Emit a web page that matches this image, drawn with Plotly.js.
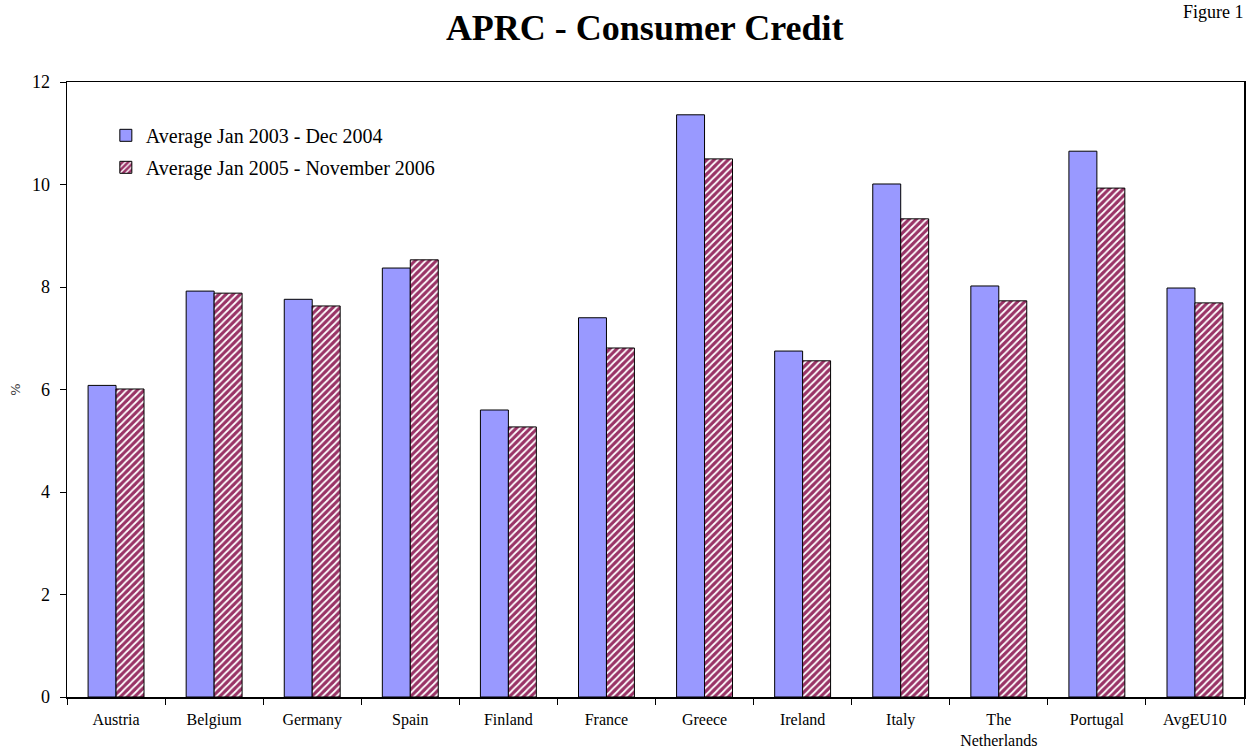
<!DOCTYPE html>
<html>
<head>
<meta charset="utf-8">
<script src="https://cdn.plot.ly/plotly-3.0.1.min.js"></script>
<style>html,body{margin:0;padding:0;background:#fff;}#chart{width:1247px;height:752px;}</style>
</head>
<body>
<div id="chart"></div>
<script>
const categories = ["Austria","Belgium","Germany","Spain","Finland","France","Greece","Ireland","Italy","The<br>Netherlands","Portugal","AvgEU10"];
const series1Name = "Average Jan 2003 - Dec 2004";
const series1 = [6.08, 7.92, 7.76, 8.37, 5.60, 7.40, 11.36, 6.75, 10.01, 8.02, 10.65, 7.98];
const series2Name = "Average Jan 2005 - November 2006";
const series2 = [6.01, 7.88, 7.63, 8.53, 5.27, 6.81, 10.50, 6.56, 9.33, 7.73, 9.93, 7.69];
const yTicks = [0, 2, 4, 6, 8, 10, 12];

const serif = "'Liberation Serif', 'Times New Roman', serif";

const traces = [
  {
    type: "bar", x: categories, y: series1, name: series1Name, legendgroup: "a",
    marker: {color: "#9999ff", line: {color: "#000", width: 1}}
  },
  {
    type: "bar", x: categories, y: series2, name: series2Name, legendgroup: "b",
    marker: {color: "#993366", line: {color: "#000", width: 1},
      pattern: {shape: "/", fgcolor: "#ffffff", bgcolor: "#993366", size: 5, solidity: 0.35}}
  }
];

const layout = {
  width: 1247, height: 752,
  margin: {l: 67, r: 3, t: 82, b: 55},
  paper_bgcolor: "#fff", plot_bgcolor: "#fff",
  barmode: "group", bargap: 0.43, bargroupgap: 0,
  font: {family: serif, color: "#000"},
  title: {text: "<b>APRC - Consumer Credit</b>", font: {family: serif, size: 36, color: "#000"},
          x: 0.517, xanchor: "center", y: 0.963, yanchor: "middle"},
  showlegend: true,
  legend: {x: 0.033, y: 0.945, xanchor: "left", yanchor: "top", bgcolor: "rgba(0,0,0,0)",
           font: {family: serif, size: 20, color: "#000"}, traceorder: "grouped", tracegroupgap: 3,
           itemwidth: 30},
  xaxis: {
    type: "category", tickson: "boundaries", ticks: "outside", ticklen: 6, tickcolor: "#000",
    showline: true, linecolor: "#000", linewidth: 1.5, mirror: true,
    tickfont: {family: serif, size: 16, color: "#000"}, showgrid: false, zeroline: false,
    ticklabelstandoff: 7
  },
  yaxis: {
    range: [0, 12], tickvals: yTicks, ticktext: yTicks.map(String), ticks: "outside", ticklen: 6, tickcolor: "#000",
    showline: true, linecolor: "#000", linewidth: 1.5, mirror: true, showgrid: false, zeroline: false,
    tickfont: {family: serif, size: 18, color: "#000"}, ticklabelstandoff: 6,
    title: {text: "%", font: {family: "'DejaVu Sans', sans-serif", size: 13, color: "#444"}, standoff: 8}
  },
  annotations: [
    {text: "Figure 1", xref: "paper", yref: "paper", x: 1.0, y: 1.0, xanchor: "right", yanchor: "top",
     yshift: 82, xshift: 2, showarrow: false, font: {family: serif, size: 18, color: "#000"}}
  ]
};

Plotly.newPlot("chart", traces, layout, {displayModeBar: false, staticPlot: true});
</script>
</body>
</html>
